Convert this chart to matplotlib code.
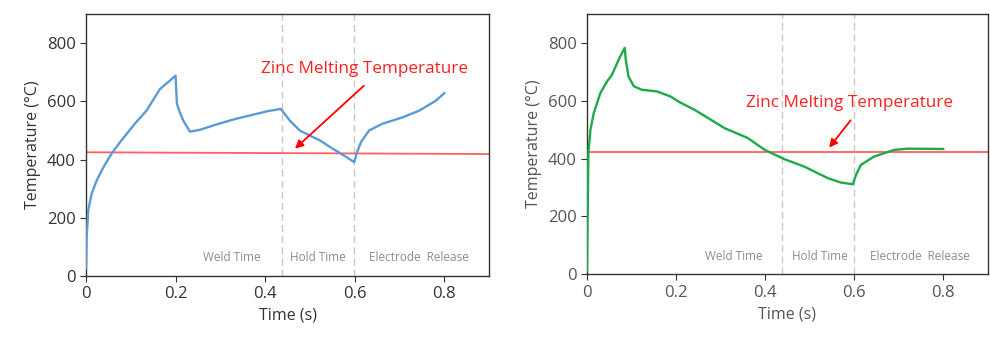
import numpy as np
import matplotlib.pyplot as plt

plt.rcParams['font.family'] = ['Open Sans', 'DejaVu Sans']

# panel 1 (blue)
t1 = [0.0, 0.0015, 0.005, 0.0126, 0.024, 0.039, 0.057, 0.076, 0.109, 0.135,
      0.165, 0.200, 0.203, 0.210, 0.217, 0.232, 0.254, 0.290, 0.330, 0.370,
      0.405, 0.435, 0.455, 0.477, 0.500, 0.522, 0.551, 0.581, 0.599, 0.604,
      0.614, 0.632, 0.662, 0.707, 0.744, 0.781, 0.800]
T1 = [26, 135, 226, 283, 329, 374, 420, 460, 523, 568,
      642, 688, 591, 560, 534, 496, 502, 520, 538, 553,
      566, 574, 534, 500, 482, 466, 437, 409, 391, 420,
      460, 500, 523, 545, 568, 602, 628]

# panel 2 (green)
t2 = [0.0, 0.0015, 0.003, 0.0075, 0.015, 0.030, 0.045, 0.056, 0.071, 0.0845,
      0.087, 0.093, 0.105, 0.123, 0.157, 0.187, 0.209, 0.241, 0.275, 0.309,
      0.361, 0.399, 0.443, 0.488, 0.541, 0.570, 0.597, 0.604, 0.615, 0.645,
      0.690, 0.720, 0.800]
T2 = [14, 233, 418, 499, 557, 627, 667, 690, 742, 783,
      742, 684, 650, 638, 632, 615, 594, 569, 537, 505,
      471, 430, 398, 372, 332, 317, 311, 343, 378, 407,
      430, 434, 433]

phase_names = ['Weld Time', 'Hold Time', 'Electrode  Release']
phase_bounds = [0.437, 0.599]
zinc_label = 'Zinc Melting Temperature'

fig = plt.figure(figsize=(9.9, 3.41), dpi=100)
ax1 = fig.add_axes([0.0869, 0.1906, 0.4071, 0.7684])
ax2 = fig.add_axes([0.593, 0.196, 0.4047, 0.763])

panels = [
    (ax1, t1, T1, '#5B9BD5', [425, 419], (0.621, 712), (0.625, 660), (0.462, 431),
     [0.325, 0.517, 0.744], '#333333'),
    (ax2, t2, T2, '#1DAA4B', [423, 423], (0.589, 592), (0.596, 540), (0.540, 430),
     [0.33, 0.522, 0.748], '#555555'),
]

for ax, t, T, col, zinc, txt, a0, a1, phx, tcol in panels:
    ax.plot(t, T, color=col, lw=1.7, zorder=3, solid_joinstyle='round')
    ax.plot([0, 0.9], zinc, color='#FF6060', lw=1.3, zorder=2)
    for b in phase_bounds:
        ax.axvline(b, color='#C8C8C8', lw=1, ls=(0, (5, 3)), zorder=1)
    for x, name in zip(phx, phase_names):
        ax.text(x, 62, name, color='#8C8C8C', fontsize=8.5, ha='center', va='center')
    ax.text(txt[0], txt[1], zinc_label, color='#FF2020', fontsize=12.3,
            ha='center', va='center')
    ax.annotate('', xy=a1, xytext=a0,
                arrowprops=dict(arrowstyle='-|>', color='#FF0000', lw=1.3,
                                mutation_scale=12))
    ax.set_xlim(0, 0.9)
    ax.set_ylim(0, 900)
    ax.set_xticks([0, 0.2, 0.4, 0.6, 0.8])
    ax.set_xticklabels(['0', '0.2', '0.4', '0.6', '0.8'])
    ax.set_yticks([0, 200, 400, 600, 800])
    ax.tick_params(direction='out', length=4, labelsize=12, colors='#333333',
                   labelcolor=tcol)
    for s in ax.spines.values():
        s.set_color('#333333')
        s.set_linewidth(1)
    ax.set_xlabel('Time (s)', fontsize=11.5, color=tcol, labelpad=4)
    ax.set_ylabel('Temperature (°C)', fontsize=11.5, color=tcol, labelpad=4)

fig.savefig('out.png', dpi=100)
